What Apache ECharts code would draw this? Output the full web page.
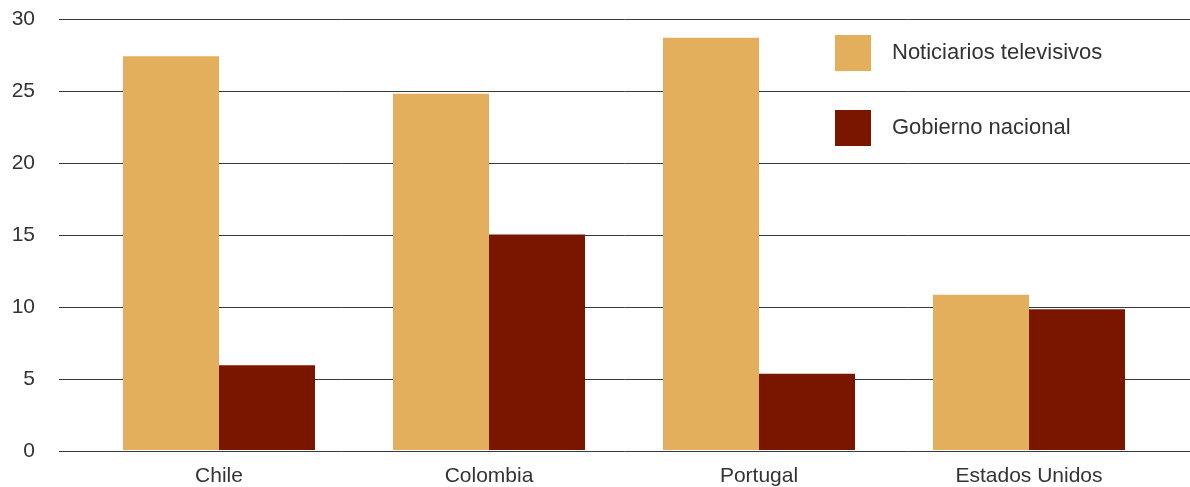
<!DOCTYPE html>
<html>
<head>
<meta charset="utf-8">
<script src="https://cdn.jsdelivr.net/npm/echarts@6/dist/echarts.min.js"></script>
<style>html,body{margin:0;padding:0;background:#fff;}#c{width:1190px;height:487px;}</style>
</head>
<body>
<div id="c"></div>
<script>
const categories = ['Chile', 'Colombia', 'Portugal', 'Estados Unidos'];
const seriesNames = ['Noticiarios televisivos', 'Gobierno nacional'];
const noticiarios = [27.4, 24.8, 28.7, 10.8];
const gobierno = [5.9, 15.0, 5.3, 9.8];
const yTicks = [0, 5, 10, 15, 20, 25, 30];

const FONT = 'Liberation Sans, Arial, sans-serif';
const chart = echarts.init(document.getElementById('c'));
chart.setOption({
  animation: false,
  backgroundColor: '#ffffff',
  legend: {
    data: seriesNames,
    orient: 'vertical',
    left: 835, top: 35,
    padding: 0,
    itemWidth: 36, itemHeight: 36, itemGap: 39,
    icon: 'rect',
    selectedMode: false,
    textStyle: { fontFamily: FONT, fontSize: 22, color: '#333', padding: [0, 0, 0, 16] }
  },
  grid: [
    { left: 59, right: 0, top: 19, height: 432 },
    { left: 84, right: 26, top: 19, height: 432 }
  ],
  xAxis: [
    { gridIndex: 0, type: 'category', data: categories, show: false },
    { gridIndex: 1, type: 'category', data: categories,
      axisLine: { show: false }, axisTick: { show: false },
      axisLabel: { fontFamily: FONT, fontSize: 21, color: '#333', margin: 16 } }
  ],
  yAxis: [
    { gridIndex: 0, type: 'value', min: yTicks[0], max: yTicks[yTicks.length - 1], interval: 5,
      axisLine: { show: false }, axisTick: { show: false },
      axisLabel: { fontFamily: FONT, fontSize: 21, color: '#333', margin: 24 },
      splitLine: { lineStyle: { color: '#3a3a3a', width: 1 } } },
    { gridIndex: 1, type: 'value', min: yTicks[0], max: yTicks[yTicks.length - 1], interval: 5,
      show: false, splitLine: { show: false } }
  ],
  series: [
    { name: seriesNames[0], type: 'bar', xAxisIndex: 1, yAxisIndex: 1, data: noticiarios,
      barWidth: 96, barGap: '0%', itemStyle: { color: '#E3AF5D' } },
    { name: seriesNames[1], type: 'bar', xAxisIndex: 1, yAxisIndex: 1, data: gobierno,
      barWidth: 96, barGap: '0%', itemStyle: { color: '#7A1600' } }
  ]
});
</script>
</body>
</html>
